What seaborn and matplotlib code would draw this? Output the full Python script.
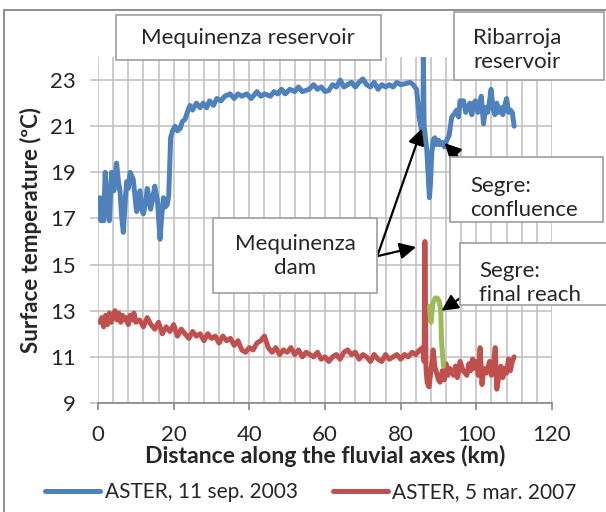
import matplotlib
matplotlib.use("Agg")
import matplotlib.pyplot as plt
from matplotlib.patches import Rectangle
from matplotlib.lines import Line2D
from matplotlib.ticker import MultipleLocator
import seaborn as sns
import pandas as pd

# distance along the fluvial axes (km) and surface temperature (ºC)
sep2003_km = [0.5, 0.8, 1.2, 1.5, 1.9, 2.4, 3.0, 3.6, 4.2, 4.9, 5.4, 5.8, 6.3, 6.7, 7.2, 7.6, 8.0, 8.5,
              9.3, 9.8, 10.2, 10.6, 11.1, 11.5, 12.0, 12.5, 13.0, 13.5, 13.9, 14.4, 15.0, 15.7, 16.1,
              16.4, 16.8, 17.3, 17.8, 18.3, 18.7, 19.2, 19.7, 20.4, 21.0, 21.7, 22.3, 23.0, 23.6, 24.3,
              25.0, 26.0, 27.0, 27.8, 28.7, 29.5, 30.5, 31.4, 32.5, 33.5, 34.9, 36, 37, 38, 39.3, 40.5,
              42, 43, 44, 45.6, 46.5, 47.5, 48.5, 49.5, 50.7, 52, 53, 54, 55.8, 57, 58, 59, 60, 61, 62,
              63, 64, 65, 66, 67, 68, 69, 70, 71, 72, 73, 74, 75, 76, 77, 78, 79, 80, 81.4, 82.5, 83.3,
              84.2, 84.9, 85.5, 85.9, 86.0, 86.2, 86.9, 87.3, 87.6, 87.9, 88.2, 88.6, 89.0, 89.5, 90.0,
              90.4, 91.0, 91.6, 92.2, 92.8, 93.5, 94.0, 94.8, 95.3, 95.7, 96.6, 97.2, 97.7, 98.3, 98.8,
              99.3, 99.8, 100.4, 100.9, 101.3, 101.9, 102.4, 103.0, 103.5, 103.9, 104.4, 104.9, 105.4,
              105.9, 106.5, 107.0, 107.5, 108.0, 108.5, 109.0, 109.5, 110.0]
sep2003_temp = [17.9, 16.9, 17.8, 16.9, 19.0, 17.8, 16.9, 19.0, 18.2, 19.4, 18.6, 18.2, 17.0, 16.4, 17.8,
                18.6, 18.3, 19.0, 18.7, 17.9, 17.3, 18.0, 18.2, 17.4, 17.2, 17.6, 18.3, 17.9, 17.4, 17.8,
                18.4, 17.8, 16.8, 16.1, 17.0, 17.9, 17.5, 17.6, 18.0, 20.5, 20.8, 21.0, 20.8, 20.9, 21.2,
                21.3, 21.6, 21.9, 21.7, 22.0, 21.8, 22.0, 21.8, 22.1, 21.9, 22.2, 22.1, 22.3, 22.4, 22.2,
                22.4, 22.3, 22.4, 22.2, 22.5, 22.3, 22.4, 22.3, 22.5, 22.4, 22.6, 22.4, 22.6, 22.5, 22.7,
                22.5, 22.6, 22.8, 22.6, 22.7, 22.5, 22.55, 22.8, 22.7, 23.0, 22.7, 22.8, 22.9, 22.7, 22.9,
                23.05, 22.8, 22.7, 22.9, 22.6, 22.8, 22.7, 22.8, 22.7, 22.9, 22.8, 22.85, 22.9, 22.8,
                22.6, 21.4, 20.8, 21.5, 24.0, 21.0, 20.0, 18.8, 17.9, 18.6, 19.8, 20.4, 20.5, 20.2, 20.4,
                20.2, 20.3, 20.1, 20.4, 20.6, 21.4, 21.5, 21.7, 21.4, 22.1, 22.1, 21.6, 21.8, 22.0, 21.5,
                22.0, 22.1, 21.6, 22.0, 22.3, 21.1, 21.8, 21.6, 22.1, 22.6, 21.8, 21.5, 22.0, 21.6, 21.8,
                21.5, 21.9, 22.2, 21.6, 21.7, 21.6, 21.0]

mar2007_km = [0.5, 1, 1.5, 2, 2.5, 3, 3.5, 4, 4.5, 5, 5.5, 6, 6.5, 7, 7.5, 8, 8.5, 9, 9.5, 10, 11, 12, 13,
              14, 15, 16, 17, 18, 19, 20, 21, 22, 23, 24, 25, 26, 27, 28, 29, 30, 31, 32, 33, 34, 35, 36,
              37, 38, 39, 40, 41, 42, 43, 44, 45, 46, 47, 48, 49, 50, 51, 52, 53, 54, 55, 56, 57, 58, 59,
              60, 61, 62, 63, 64, 65, 66, 67, 68, 69, 70, 71, 72, 73, 74, 75, 76, 77, 78, 79, 80, 81, 82,
              83, 84, 85, 85.8, 86.2, 86.4, 86.7, 87, 87.5, 88, 88.6, 89, 89.5, 90, 90.4, 91, 91.5, 92,
              92.5, 93, 94, 94.5, 95, 95.7, 96.5, 97.5, 98, 98.5, 99, 99.5, 100, 100.5, 101, 101.5, 102,
              102.7, 103.5, 104, 104.5, 105, 105.4, 106, 106.5, 107, 107.5, 108, 108.5, 109, 109.5, 110]
mar2007_temp = [12.5, 12.7, 12.3, 12.8, 12.4, 12.9, 12.5, 12.8, 13.0, 12.6, 12.9, 12.5, 12.8, 12.6, 12.7,
                12.4, 12.8, 12.6, 12.9, 12.5, 12.6, 12.3, 12.7, 12.4, 12.2, 12.5, 12.0, 12.3, 12.1, 12.4,
                11.9, 12.2, 12.0, 11.8, 12.1, 11.9, 12.0, 11.7, 12.0, 11.8, 11.9, 11.6, 11.9, 11.7, 11.8,
                11.5, 11.7, 11.3, 11.2, 11.4, 11.3, 11.6, 11.7, 11.9, 11.4, 11.2, 11.4, 11.1, 11.3, 11.2,
                11.4, 11.1, 11.3, 11.0, 11.2, 11.1, 11.0, 11.2, 10.9, 11.0, 10.8, 11.0, 11.1, 10.9, 11.2,
                11.3, 11.1, 11.2, 10.9, 11.1, 11.0, 10.8, 11.1, 10.9, 10.8, 11.1, 10.9, 11.0, 11.1, 10.9,
                11.1, 11.0, 11.2, 11.1, 11.3, 11.4, 10.8, 16.0, 10.5, 9.9, 9.7, 10.4, 11.3, 10.6, 10.3,
                10.0, 9.9, 10.4, 10.0, 10.7, 10.2, 10.5, 10.2, 10.6, 10.1, 10.8, 10.4, 10.2, 10.7, 10.4,
                10.9, 10.5, 10.8, 10.2, 11.4, 9.8, 10.5, 10.3, 10.8, 10.2, 10.6, 11.4, 9.6, 10.2, 10.6,
                10.1, 10.5, 10.3, 10.9, 10.4, 10.8, 11.0]

segre_km = [87.6, 88.0, 88.5, 89.1, 89.7, 90.2, 90.6, 90.8, 91.3]
segre_temp = [13.2, 12.5, 13.3, 13.55, 13.55, 13.4, 13.0, 11.7, 10.6]

labels = ["ASTER, 11 sep. 2003", "ASTER, 5 mar. 2007"]
blue, red, green = "#4F81BD", "#C0504D", "#9BBB59"
W, H = 606, 512
FS = 16

sns.set_style("white")
plt.rcParams["font.family"] = ["Lato", "DejaVu Sans"]
plt.rcParams["font.size"] = FS

fig = plt.figure(figsize=(W / 100, H / 100), dpi=100)
ax = fig.add_axes([98 / W, 1 - 403 / H, (552 - 98) / W, (403 - 57) / H])

sns.lineplot(x=sep2003_km, y=sep2003_temp, sort=False, estimator=None, color=blue, lw=3.6, ax=ax)
sns.lineplot(x=mar2007_km, y=mar2007_temp, sort=False, estimator=None, color=red, lw=3.6, ax=ax)
sns.lineplot(x=segre_km, y=segre_temp, sort=False, estimator=None, color=green, lw=3.6, ax=ax)

ax.set_xlim(0, 120)
ax.set_ylim(9, 24)
ax.xaxis.set_major_locator(MultipleLocator(20))
ax.xaxis.set_minor_locator(MultipleLocator(4))
ax.set_yticks(range(9, 24, 2))
ax.grid(which="both", axis="x", color="#BFBFBF", lw=1.1)
ax.grid(which="major", axis="y", color="#BFBFBF", lw=1.1)
ax.set_axisbelow(True)
for s in ["top", "right", "left"]:
    ax.spines[s].set_visible(False)
ax.spines["bottom"].set_color("#868686")
ax.spines["bottom"].set_linewidth(1.2)
ax.tick_params(axis="x", which="major", direction="out", length=5, width=1.2, color="#868686",
               bottom=True, pad=11, labelsize=FS)
ax.tick_params(axis="x", which="minor", length=0)
ax.tick_params(axis="y", direction="out", length=6, width=1.1, color="#BFBFBF", left=True,
               pad=10, labelsize=FS)
ax.set_xlabel("Distance along the fluvial axes (km)", fontsize=16.6, fontweight="bold", labelpad=0)
ax.set_ylabel("Surface temperature (ºC)", fontsize=FS, fontweight="bold", labelpad=6)


def fx(px):
    return px / W


def fy(py):
    return 1 - py / H


# outer chart border
fig.add_artist(Rectangle((fx(4), -0.05), 1.1, fy(10) + 0.05, transform=fig.transFigure,
                         fill=False, ec="#868686", lw=1.3, zorder=1))

boxes = [
    (116, 15, 381, 60, "Mequinenza reservoir", 248, 38, "center"),
    (454, 12, 604, 80, "Ribarroja\nreservoir", 473, 50, "left"),
    (450, 157, 603, 222, "Segre:\nconfluence", 470, 198, "left"),
    (213, 218, 377, 293, "Mequinenza\ndam", 295, 256, "center"),
    (460, 243, 620, 305, "Segre:\nfinal reach", 479, 283, "left"),
]
for x0, y0, x1, y1, txt, tx, ty, ha in boxes:
    fig.add_artist(Rectangle((fx(x0), fy(y1)), (x1 - x0) / W, (y1 - y0) / H,
                             transform=fig.transFigure, fc="white", ec="#A6A6A6", lw=1.3, zorder=2))
    fig.text(fx(tx), fy(ty), txt, ha=ha, va="center", fontsize=FS, linespacing=1.3, zorder=3)

arrows = [
    ((85.6, 20.9), (378, 254)),
    ((84.1, 15.76), (378, 256)),
    ((91.6, 20.27), (470, 169)),
    ((90.8, 13.0), (487, 280)),
]
for tip, tail in arrows:
    ax.annotate("", xy=tip, xycoords="data", xytext=(fx(tail[0]), fy(tail[1])),
                textcoords="figure fraction",
                arrowprops=dict(arrowstyle="-|>,head_length=0.7,head_width=0.35", color="black",
                                lw=1.6, mutation_scale=14, shrinkA=0, shrinkB=0))

handles = [Line2D([], [], color=blue, lw=3.6), Line2D([], [], color=red, lw=3.6)]
fig.legend(handles, labels, loc="center", bbox_to_anchor=(fx(311), fy(492)), ncol=2, frameon=False,
           fontsize=15, handlelength=2.65, handletextpad=0.2, columnspacing=1.7)

fig.savefig("out.png", dpi=100)
